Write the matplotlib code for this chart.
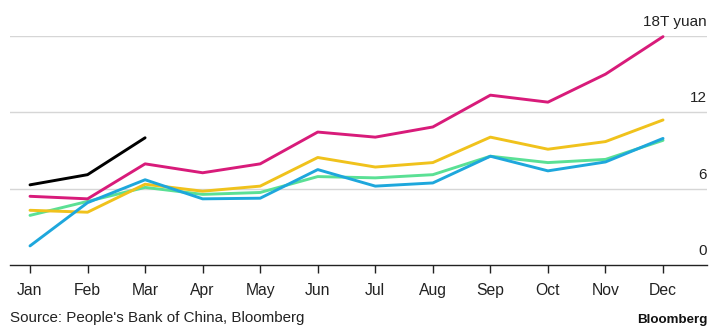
import matplotlib
matplotlib.use("Agg")
import matplotlib.pyplot as plt

plt.rcParams['font.family'] = ['Liberation Sans', 'DejaVu Sans']

months = ["Jan", "Feb", "Mar", "Apr", "May", "Jun", "Jul", "Aug", "Sep", "Oct", "Nov", "Dec"]
s_black = [6.3, 7.1, 10.0]
s_magenta = [5.4, 5.2, 7.95, 7.25, 7.95, 10.45, 10.05, 10.85, 13.35, 12.8, 15.0, 17.95]
s_yellow = [4.3, 4.15, 6.35, 5.8, 6.2, 8.45, 7.7, 8.05, 10.05, 9.1, 9.7, 11.4]
s_green = [3.9, 5.0, 6.1, 5.55, 5.7, 6.95, 6.85, 7.1, 8.55, 8.05, 8.3, 9.8]
s_blue = [1.5, 4.9, 6.7, 5.2, 5.25, 7.5, 6.2, 6.45, 8.55, 7.4, 8.1, 9.95]
yticks = [0, 6, 12, 18]
ytick_labels = ["0", "6", "12", "18T yuan"]

W, H = 720, 329
fig = plt.figure(figsize=(W / 100, H / 100), dpi=100)
ax = fig.add_axes([10 / W, 64 / H, 697 / W, 229 / H])

x = list(range(len(months)))
lw = 2.1
ax.plot(x, s_green, color="#5ae095", lw=lw, solid_capstyle="round", clip_on=False, zorder=3)
ax.plot(x, s_blue, color="#1ea7dc", lw=lw, solid_capstyle="round", clip_on=False, zorder=4)
ax.plot(x, s_yellow, color="#f0c21c", lw=lw, solid_capstyle="round", clip_on=False, zorder=3)
ax.plot(x, s_magenta, color="#d81b7a", lw=lw, solid_capstyle="round", clip_on=False, zorder=5)
ax.plot(x[:len(s_black)], s_black, color="#000000", lw=lw, solid_capstyle="round", clip_on=False, zorder=6)

ax.set_xlim(-0.3475, 11.764)
ax.set_ylim(0, 18)

for yv in yticks[1:]:
    ax.axhline(yv, color="#d6d6d6", lw=1.0, zorder=1)

for s in ["top", "right", "left"]:
    ax.spines[s].set_visible(False)
ax.spines["bottom"].set_color("#222222")
ax.spines["bottom"].set_linewidth(1.0)

ax.set_yticks([])
ax.set_xticks(x)
ax.set_xticklabels(months, fontsize=11.3, color="#222222")
ax.tick_params(axis="x", length=6, width=1.0, color="#222222", pad=7)

for yv, lab in zip(yticks, ytick_labels):
    ax.annotate(lab, xy=(1.0, yv), xycoords=("axes fraction", "data"),
                xytext=(0, 5), textcoords="offset points",
                ha="right", va="bottom", fontsize=11, color="#222222")

fig.text(10 / W, 1 - 318 / H, "Source: People's Bank of China, Bloomberg",
         fontsize=10.9, color="#222222", ha="left", va="center")
fig.text(707 / W, 1 - 320 / H, "Bloomberg", fontsize=9.6, fontweight="bold",
         color="#111111", ha="right", va="center")

fig.savefig("out.png", dpi=100, facecolor="white")
